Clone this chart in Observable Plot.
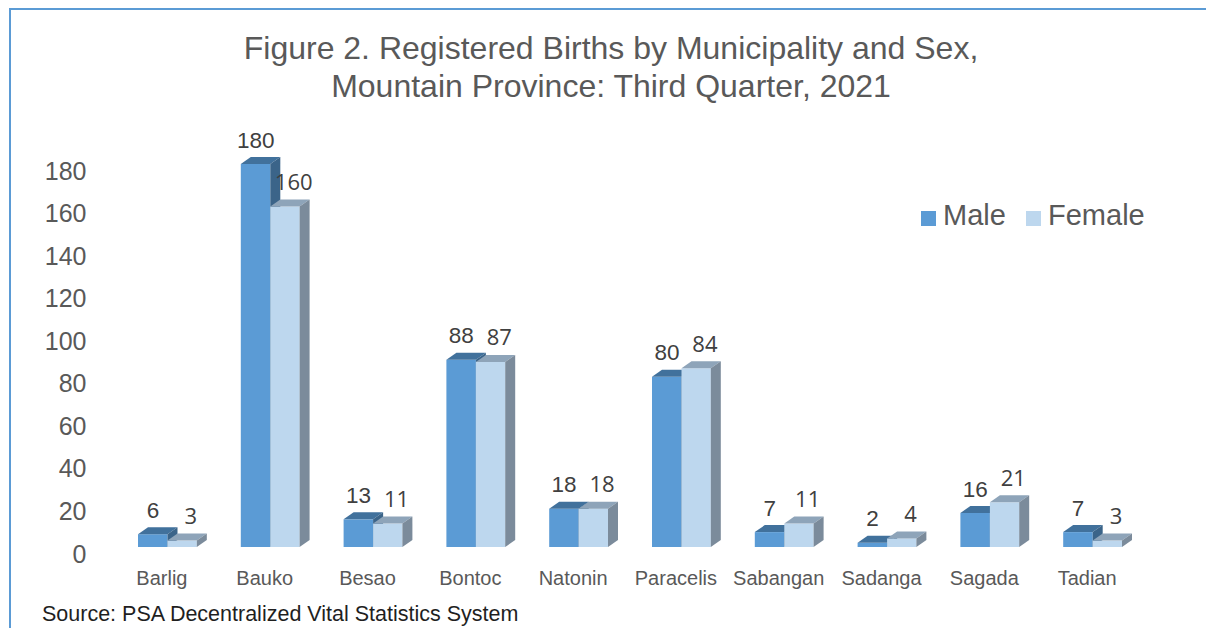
<!DOCTYPE html>
<html>
<head>
<meta charset="utf-8">
<script src="https://cdn.jsdelivr.net/npm/d3@7"></script>
<script src="https://cdn.jsdelivr.net/npm/@observablehq/plot@0.6"></script>
<style>
  html, body { margin: 0; padding: 0; background: #fff; }
  #wrap { position: relative; width: 1206px; height: 628px; overflow: hidden; font-family: "Liberation Sans", Arial, sans-serif; }
  #topline { position: absolute; left: 10px; top: 8px; width: 1196px; height: 0; border-top: 2px solid #5b9bd5; }
  #leftline { position: absolute; left: 9px; top: 8px; width: 0; height: 620px; border-left: 2px solid #5b9bd5; }
  #title { position: absolute; left: 0; top: 29px; width: 1222px; text-align: center; font-size: 32px; line-height: 38px; color: #595959; }
  #chart { position: absolute; left: 0; top: 0; }
  .leg { position: absolute; top: 199px; font-size: 29px; color: #595959; white-space: nowrap; line-height: 32px; }
  .sw { display: inline-block; width: 15px; height: 15px; margin-right: 7px; vertical-align: -1px; }
  #source { position: absolute; left: 42px; top: 602px; font-size: 21.5px; line-height: 24px; color: #1f1f1f; white-space: nowrap; }
</style>
</head>
<body>
<div id="wrap">
  <div id="topline"></div>
  <div id="leftline"></div>
  <div id="title">Figure 2. Registered Births by Municipality and Sex,<br>Mountain Province: Third Quarter, 2021</div>
  <div id="chart"></div>
  <div class="leg" style="left:921px"><span class="sw" style="background:#5b9bd5"></span>Male</div>
  <div class="leg" style="left:1026px"><span class="sw" style="background:#bdd7ee"></span>Female</div>
  <div id="source">Source: PSA Decentralized Vital Statistics System</div>
</div>
<script>
const municipalities = ["Barlig", "Bauko", "Besao", "Bontoc", "Natonin", "Paracelis", "Sabangan", "Sadanga", "Sagada", "Tadian"];
const maleBirths   = [6, 180, 13, 88, 18, 80, 7, 2, 16, 7];
const femaleBirths = [3, 160, 11, 87, 18, 84, 11, 4, 21, 3];
const yTicks = [0, 20, 40, 60, 80, 100, 120, 140, 160, 180];

const maleRows = municipalities.map((m, i) => ({muni: m, sex: "Male", value: maleBirths[i]}));
const femaleRows = municipalities.map((m, i) => ({muni: m, sex: "Female", value: femaleBirths[i]}));

const DX = 10, DY = 7;

function bar3d(data, {front, top, side, insetLeft, insetRight}) {
  return Plot.barY(data, {
    x: "muni", y: "value", fill: front, insetLeft, insetRight,
    render(index, scales, values, dimensions, context, next) {
      const g = next(index, scales, values, dimensions, context);
      const x = scales.x, y = scales.y;
      const bw = x.bandwidth();
      const sel = d3.select(g);
      for (const i of index) {
        const d = data[i];
        const x0 = x(d.muni) + insetLeft, x1 = x(d.muni) + bw - insetRight;
        const yt = y(d.value), yb = y(0);
        sel.append("polygon")
          .attr("points", [[x0, yt], [x0 + DX, yt - DY], [x1 + DX, yt - DY], [x1, yt]].map(p => p.join(",")).join(" "))
          .attr("fill", top);
        sel.append("polygon")
          .attr("points", [[x1, yt], [x1 + DX, yt - DY], [x1 + DX, yb - DY], [x1, yb]].map(p => p.join(",")).join(" "))
          .attr("fill", side);
      }
      return g;
    }
  });
}

const plot = Plot.plot({
  width: 1206,
  height: 628,
  marginLeft: 110,
  marginRight: 68,
  marginTop: 164,
  marginBottom: 81,
  style: {fontFamily: "'Liberation Sans', Arial, sans-serif", color: "#595959", background: "transparent"},
  x: {domain: municipalities, padding: 0, round: false, label: null},
  y: {domain: [0, 180], label: null},
  marks: [
    Plot.axisY({ticks: yTicks, tickSize: 0, tickPadding: 24, fontSize: 25, dy: 7, label: null, tickFormat: d => String(d)}),
    Plot.axisX({tickSize: 0, tickPadding: 23, fontSize: 20, label: null}),
    bar3d(maleRows, {front: "#5b9bd5", top: "#41719c", side: "#3b6489", insetLeft: 28, insetRight: 45.3}),
    bar3d(femaleRows, {front: "#bdd7ee", top: "#8ea4b9", side: "#7b8b9b", insetLeft: 57.5, insetRight: 16}),
    Plot.text(maleRows, {x: "muni", y: "value", text: d => String(d.value), dx: -9, dy: -24, fontSize: 22.5, fill: "#404040", lineAnchor: "middle"}),
    Plot.text(femaleRows, {x: "muni", y: "value", text: d => String(d.value), dx: 29, dy: -24, fontSize: 22, fill: "#404040", lineAnchor: "middle", fontFamily: "'Open Sans', sans-serif"})
  ]
});
document.getElementById("chart").appendChild(plot);
</script>
</body>
</html>
